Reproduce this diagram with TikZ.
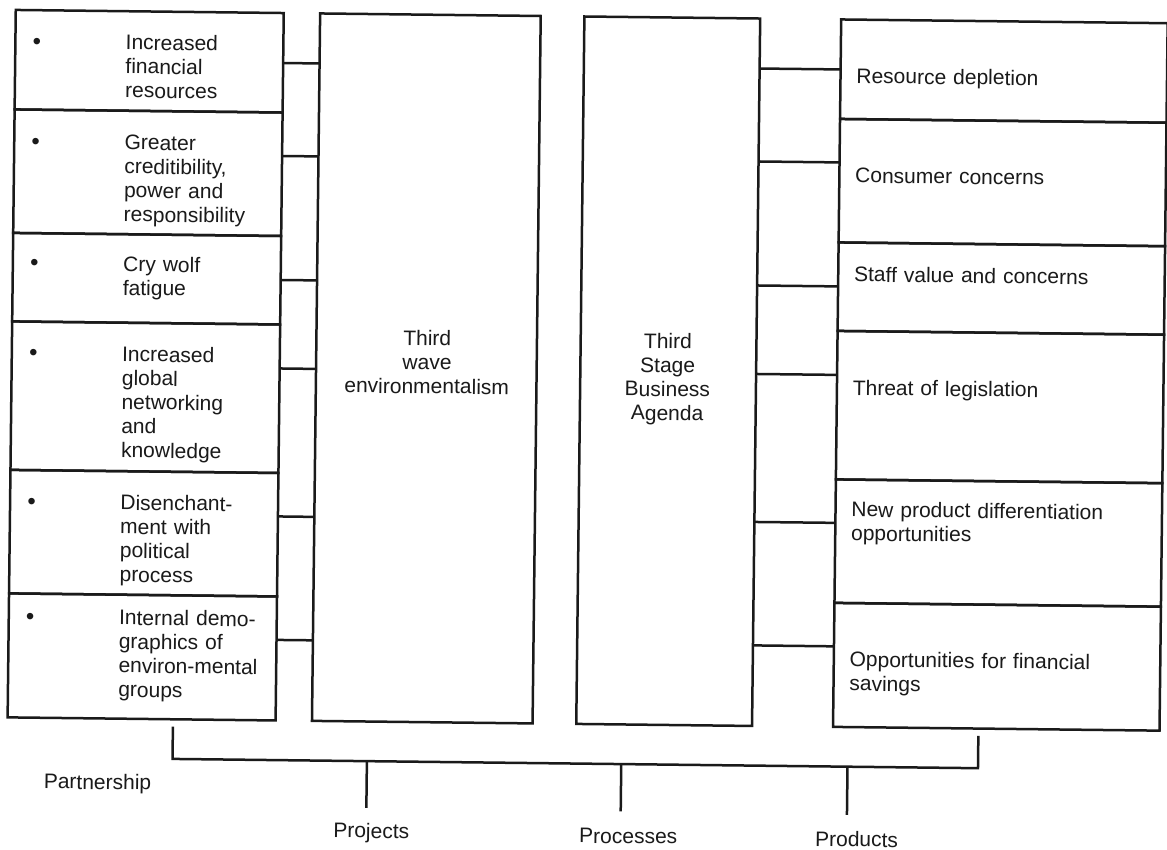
\documentclass[tikz,border=0pt]{standalone}
\usepackage{fontspec}
\setmainfont{Liberation Sans}
\usetikzlibrary{calc}
\definecolor{ink}{HTML}{1A1A1A}

\begin{document}
\begin{tikzpicture}[x=0.5pt,y=-0.5pt,
  wire/.style={draw=ink,line width=1.25pt},
  cell/.style={draw=ink,line width=1.25pt,rectangle,inner sep=0pt,outer sep=0pt,anchor=north west},
  txt/.style={font=\fontsize{10.5}{12}\selectfont,text=ink,inner sep=0pt,anchor=base west,align=left,text width=#1},
  txt/.default=75pt,
  ctr/.style={font=\fontsize{10.5}{12}\selectfont,text=ink,inner sep=0pt,anchor=base,align=center,text width=#1},
  bul/.style={font=\fontsize{12}{12}\selectfont,text=ink,inner sep=0pt,anchor=base},
  lab/.style={font=\fontsize{10.5}{12}\selectfont,text=ink,inner sep=0pt,anchor=base}]

\useasboundingbox (0,0) rectangle (1167,850);
\fill[white] (0,0) rectangle (1167,850);

\begin{scope}[rotate around={-0.66:(583.5,425)}, transform shape]

% left column: drivers of environmental groups
\node[cell,minimum width=134pt,minimum height=49.75pt] (L1) at (11,16.5) {};
\node[cell,minimum width=134pt,minimum height=61.75pt] (L2) at (11,116) {};
\node[cell,minimum width=134pt,minimum height=44.25pt] (L3) at (11,239.5) {};
\node[cell,minimum width=134pt,minimum height=74.25pt] (L4) at (11,328) {};
\node[cell,minimum width=134pt,minimum height=61.75pt] (L5) at (11,476.5) {};
\node[cell,minimum width=134pt,minimum height=62pt]    (L6) at (11,600) {};

% two central columns
\node[cell,minimum width=110.3pt,minimum height=353.75pt] (W) at (315.4,16.5) {};
\node[cell,minimum width=87.9pt,minimum height=353.75pt]  (B) at (579.7,16.5) {};

% right column: business drivers
\node[cell,minimum width=163.25pt,minimum height=49.75pt] (R1) at (836.5,16.5) {};
\node[cell,minimum width=163.25pt,minimum height=61.75pt] (R2) at (836.5,116) {};
\node[cell,minimum width=163.25pt,minimum height=44.25pt] (R3) at (836.5,239.5) {};
\node[cell,minimum width=163.25pt,minimum height=74.25pt] (R4) at (836.5,328) {};
\node[cell,minimum width=163.25pt,minimum height=61.75pt] (R5) at (836.5,476.5) {};
\node[cell,minimum width=163.25pt,minimum height=62pt]    (R6) at (836.5,600) {};

% left texts with bullets
\node[bul] (d1) at (32.5,55.5)    {\textbullet};
\node[bul] (d2) at (32.5,155.5)   {\textbullet};
\node[bul] (d3) at (32.5,277.2) {\textbullet};
\node[bul] (d4) at (32.5,367.3) {\textbullet};
\node[bul] (d5) at (32.5,515.7) {\textbullet};
\node[bul] (d6) at (32.5,630.7) {\textbullet};
\node[txt] (t1) at (121,55)    {Increased\\financial\\resources};
\node[txt] (t2) at (121,155)   {Greater\\creditibility,\\power and\\responsibility};
\node[txt] (t3) at (121,276.7) {Cry wolf\\fatigue};
\node[txt] (t4) at (121,366.8) {Increased\\global\\networking\\and\\knowledge};
\node[txt] (t5) at (121,515.2) {Disenchant-\\ment with\\political\\process};
\node[txt] (t6) at (121,630.2) {Internal demo-\\graphics of\\environ-mental\\groups};

% central texts
\node[ctr=100pt] (tw) at (426.3,347.4) {Third\\wave\\environmentalism};
\node[ctr=80pt]  (tb) at (667,347.4)   {Third\\Stage\\Business\\Agenda};

% right texts
\node[txt=150pt] (r1) at (852,80.2)  {Resource depletion};
\node[txt=150pt] (r2) at (852,179.6) {Consumer concerns};
\node[txt=150pt] (r3) at (852,278.6) {Staff value and concerns};
\node[txt=150pt] (r4) at (852,391.9) {Threat of legislation};
\node[txt=150pt] (r5) at (852,513.6) {New product differentiation\\opportunities};
\node[txt=150pt] (r6) at (852,663.7) {Opportunities for financial\\savings};

% short links between the columns
\foreach \i/\t/\u in {1/0.5025/0.0707, 2/0.3522/0.2021, 3/0.4972/0.3774,
                      4/0.2963/0.5025, 5/0.3522/0.7117, 6/0.3508/0.8862} {
  \draw[wire] ($(L\i.north east)!\t!(L\i.south east)$) -- ($(W.north west)!\u!(W.south west)$);
  \draw[wire] ($(B.north east)!\u!(B.south east)$) -- ($(R\i.north west)!\t!(R\i.south west)$);
}

% partnership bracket and its three outcomes
\coordinate (ka) at (176.4,731.3);
\coordinate (kb) at (176.4,763.7);
\coordinate (kc) at (982,763.7);
\coordinate (kd) at (982,731.3);
\draw[wire] (ka) -- (kb) -- (kc) -- (kd);

\node[lab,anchor=base west] (part) at (47.6,794.9) {Partnership};
\node[lab] (proj) at (376,840.5) {Projects};
\node[lab] (proc) at (633,843)   {Processes};
\node[lab] (prod) at (861.4,843.6) {Products};

\coordinate (p1) at (370.8,763.7);  \coordinate (p1e) at (370.8,810.5);
\coordinate (p2) at (625.2,763.7);  \coordinate (p2e) at (625.2,811);
\coordinate (p3) at (851.5,763.7);  \coordinate (p3e) at (851.5,812);
\draw[wire] (p1) -- (p1e);
\draw[wire] (p2) -- (p2e);
\draw[wire] (p3) -- (p3e);

\end{scope}
\end{tikzpicture}
\end{document}
